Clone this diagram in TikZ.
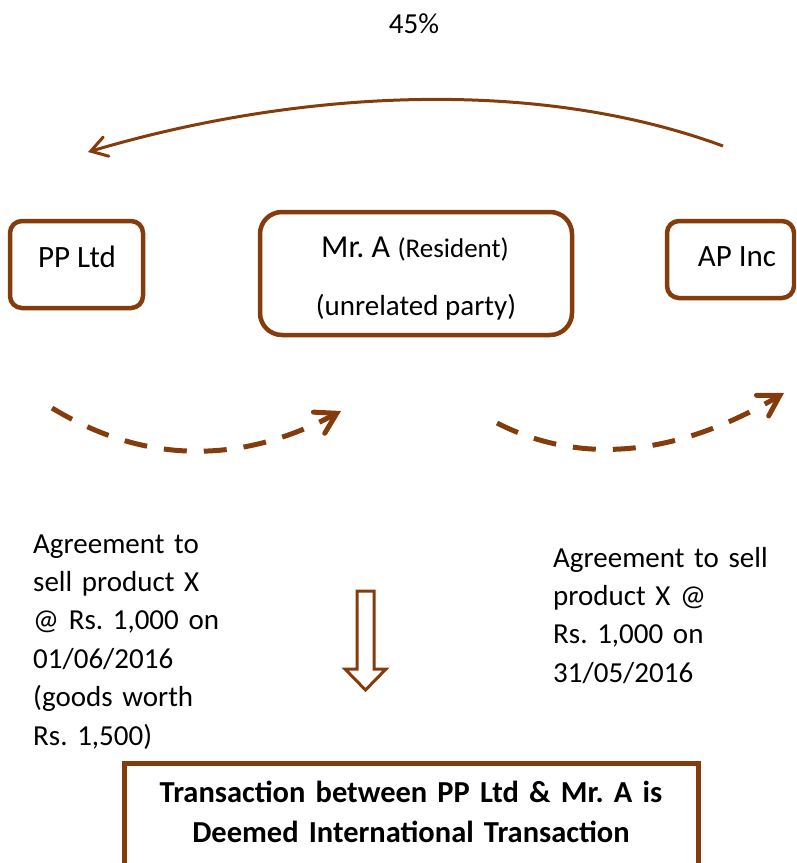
\documentclass[tikz,border=0pt]{standalone}
\usepackage{fontspec}
\setmainfont{Carlito}
\usetikzlibrary{arrows.meta}
\definecolor{brn}{RGB}{132,60,12}
\frenchspacing
\tikzset{
  boxshape/.style={draw=brn, line width=4.5pt, rounded corners=#1},
  txt/.style={font=\fontsize{29}{38.4}\selectfont, inner sep=0pt},
  block/.style={txt, text width=260pt, align=left, anchor=base west},
  dasharrow/.style={draw=brn, line width=5pt, dash pattern=on 23pt off 17pt,
    -{Straight Barb[length=20pt,width=24pt,line cap=round]}},
  toparrow/.style={draw=brn, line width=3pt,
    -{Straight Barb[length=16pt,width=20pt,line cap=round]}}
}
\begin{document}
\begin{tikzpicture}[x=1pt,y=-1pt]
\clip (0,0) rectangle (796,863);
% percentage
\node[txt, anchor=base] (pct) at (414,33) {45\%};
% boxes
\node[boxshape=12pt, minimum width=133pt, minimum height=87pt] (pp) at (76.5,264.5) {};
\node[txt, font=\fontsize{31}{38}\selectfont, anchor=base] (pptxt) at (77,267) {PP Ltd};
\node[boxshape=22pt, minimum width=312pt, minimum height=123pt] (mra) at (416,273.5) {};
\node[txt, anchor=base] (mratxt) at (415,257) {\fontsize{32}{36}\selectfont Mr. A {\fontsize{27}{30}\selectfont(Resident)}};
\node[txt, anchor=base] (mrb) at (416,315) {\fontsize{29}{36}\selectfont(unrelated party)};
\node[boxshape=12pt, minimum width=127pt, minimum height=77pt] (ap) at (730.5,259.5) {};
\node[txt, font=\fontsize{31}{38}\selectfont, anchor=base] (aptxt) at (737,266) {AP Inc};
% top arrow
\coordinate (t1) at (723,146);
\coordinate (t2) at (88,152);
\draw[toparrow] (t1) .. controls (530,75) and (290,92) .. (t2);
% dashed arrows
\coordinate (d1s) at (52,408);
\coordinate (d1e) at (341,411);
\draw[dasharrow] (d1s) .. controls (144,464) and (240,465) .. (d1e);
\coordinate (d2s) at (497,423);
\coordinate (d2e) at (784,393);
\draw[dasharrow] (d2s) .. controls (581,466) and (677,456) .. (d2e);
% text blocks
\node[block] (lt) at (33,553) {Agreement to\\sell product X\\@ Rs. 1,000 on\\01/06/2016\\(goods worth\\Rs. 1,500)};
\node[block] (rt) at (553,567) {Agreement to sell\\product X @\\Rs. 1,000 on\\31/05/2016};
% down block arrow
\draw[draw=brn, line width=3pt, line join=miter] (357,591) -- (374,591) -- (374,669) -- (386,669) -- (365.5,690) -- (345,669) -- (357,669) -- cycle;
% bottom box
\draw[draw=brn, line width=5pt] (124,763) rectangle (698,900);
\node[txt, font=\fontsize{30.5}{40}\selectfont\bfseries, text width=560pt, align=center, anchor=base] (bt) at (411,802) {Transaction between PP Ltd \& Mr. A is\\Deemed International Transaction};
\end{tikzpicture}
\end{document}
